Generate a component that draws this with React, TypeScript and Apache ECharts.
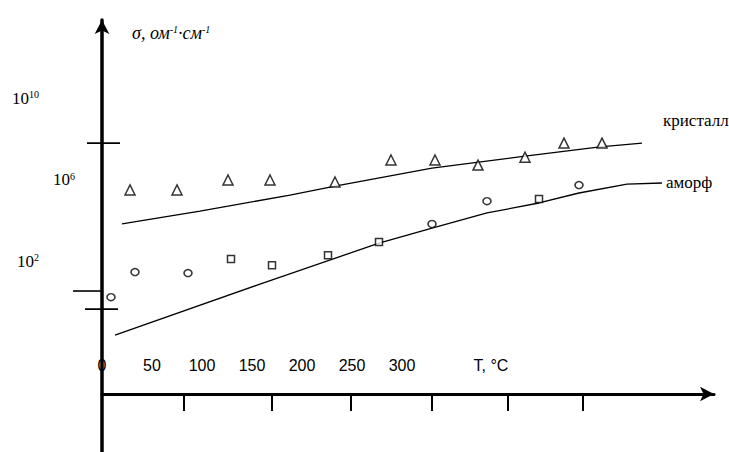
import React, { useEffect, useRef } from "react";
import * as echarts from "echarts";

// Temperature axis (°C) – label values and the (irregular) tick-mark positions
const xTickLabels = [0, 50, 100, 150, 200, 250, 300];
const xTickMarks = [82, 170, 249, 330, 406, 481];
// Conductivity axis in log10(σ) units
const yTickLabels = [2, 6, 10];

// Measured points: crystal (triangles)
const crystalT = [28, 75, 126, 168, 233, 289, 333, 376, 423, 462, 500];
const crystalLogS = [5.49, 5.49, 5.98, 5.98, 5.88, 6.96, 6.96, 6.71, 7.1, 7.79, 7.79];

// Measured points: amorphous (circles)
const amorphCircleT = [9, 33, 86, 330, 385, 477];
const amorphCircleLogS = [0.23, 1.46, 1.41, 3.82, 4.94, 5.73];

// Measured points: amorphous (squares)
const amorphSquareT = [129, 170, 226, 277, 437];
const amorphSquareLogS = [2.1, 1.8, 2.29, 2.93, 5.04];

// Fitted curves
const crystalFitT = [20, 98, 188, 233, 330, 423, 498, 540];
const crystalFitLogS = [3.82, 4.45, 5.24, 5.68, 6.56, 7.15, 7.6, 7.79];

const amorphFitT = [13, 158, 277, 330, 385, 437, 477, 525, 560];
const amorphFitLogS = [-1.63, 0.87, 2.88, 3.62, 4.36, 4.85, 5.34, 5.78, 5.83];

// Hand-drawn cross marks on the σ axis
const crossLevels = [7.79, 0.53, -0.36];
const crossFrom = [-15, -29, -17];
const crossTo = [18, 1, 16];

const zip = (xs: number[], ys: number[]) => xs.map((x, i) => [x, ys[i]]);

export default function App() {
  const ref = useRef<HTMLDivElement | null>(null);

  useEffect(() => {
    if (!ref.current) return;
    const chart = echarts.init(ref.current, undefined, { renderer: "svg" });

    const black = "#000";
    const scatterStyle = { color: "#fff", borderColor: black, borderWidth: 1.5 };

    const option: any = {
      animation: false,
      backgroundColor: "#fff",
      grid: { left: 102, right: 15, top: 20, bottom: 0, containLabel: false },
      xAxis: {
        type: "value",
        min: 0,
        max: 612,
        offset: -58,
        axisLine: {
          show: true,
          onZero: false,
          symbol: ["none", "arrow"],
          symbolSize: [11, 14],
          lineStyle: { color: black, width: 3 },
        },
        axisTick: {
          show: true,
          customValues: xTickMarks,
          length: 17,
          lineStyle: { color: black, width: 2 },
        },
        axisLabel: {
          show: true,
          customValues: xTickLabels,
          inside: true,
          margin: 21,
          color: black,
          fontFamily: "Liberation Sans",
          fontSize: 16,
        },
        splitLine: { show: false },
      },
      yAxis: {
        type: "value",
        min: -7.37,
        max: 13.83,
        axisLine: {
          show: true,
          onZero: false,
          symbol: ["none", "arrow"],
          symbolSize: [11, 14],
          lineStyle: { color: black, width: 3.5 },
        },
        axisTick: { show: false },
        axisLabel: {
          show: true,
          customValues: yTickLabels,
          margin: 27,
          formatter: (v: number) => (v === 6 ? `{b|10}{s|${v}}` : `{b|10}{sp|${v}}`),
          rich: {
            b: { fontFamily: "Liberation Serif", fontSize: 17, color: black },
            s: { fontFamily: "Liberation Serif", fontSize: 10, color: black, verticalAlign: "top" },
            sp: {
              fontFamily: "Liberation Serif",
              fontSize: 10,
              color: black,
              verticalAlign: "top",
              padding: [0, 36, 0, 0],
            },
          },
        },
        splitLine: { show: false },
      },
      graphic: [
        {
          type: "text",
          left: 132,
          top: 24,
          style: {
            text: "{a|σ, ом}{s|-1}{a|·см}{s|-1}",
            rich: {
              a: { fontFamily: "Liberation Serif", fontStyle: "italic", fontSize: 18, fill: black },
              s: {
                fontFamily: "Liberation Serif",
                fontStyle: "italic",
                fontSize: 10,
                fill: black,
                verticalAlign: "top",
              },
            },
          },
        },
        {
          type: "text",
          x: 491,
          y: 365,
          style: {
            text: "T, °C",
            fontFamily: "Liberation Sans",
            fontSize: 16,
            fill: black,
            align: "center",
            verticalAlign: "middle",
          },
        },
      ],
      series: [
        {
          type: "custom",
          coordinateSystem: "cartesian2d",
          data: crossLevels.map((lvl, i) => [crossFrom[i], crossTo[i], lvl]),
          encode: { x: [0, 1], y: 2 },
          clip: false,
          silent: true,
          renderItem: (_params: any, api: any) => {
            const a = api.coord([api.value(0), api.value(2)]);
            const b = api.coord([api.value(1), api.value(2)]);
            return {
              type: "line",
              shape: { x1: a[0], y1: a[1], x2: b[0], y2: b[1] },
              style: { stroke: black, lineWidth: 1.6 },
            };
          },
          z: 5,
        },
        {
          type: "line",
          name: "кристалл",
          data: zip(crystalFitT, crystalFitLogS),
          symbol: "none",
          lineStyle: { color: black, width: 1.3 },
          endLabel: {
            show: true,
            formatter: "кристалл",
            offset: [13, -23],
            fontFamily: "Liberation Serif",
            fontSize: 17,
            color: black,
          },
          z: 3,
        },
        {
          type: "line",
          name: "аморф",
          data: zip(amorphFitT, amorphFitLogS),
          symbol: "none",
          lineStyle: { color: black, width: 1.3 },
          endLabel: {
            show: true,
            formatter: "аморф",
            offset: [-4, -1],
            fontFamily: "Liberation Serif",
            fontSize: 17,
            color: black,
          },
          z: 3,
        },
        {
          type: "scatter",
          data: zip(crystalT, crystalLogS),
          symbol: "triangle",
          symbolSize: [10, 10],
          itemStyle: scatterStyle,
          z: 4,
        },
        {
          type: "scatter",
          data: zip(amorphCircleT, amorphCircleLogS),
          symbol: "circle",
          symbolSize: [8, 7],
          itemStyle: scatterStyle,
          z: 4,
        },
        {
          type: "scatter",
          data: zip(amorphSquareT, amorphSquareLogS),
          symbol: "rect",
          symbolSize: [7, 7],
          itemStyle: scatterStyle,
          z: 4,
        },
      ],
    };

    chart.setOption(option);
    return () => chart.dispose();
  }, []);

  return (
    <div
      ref={ref}
      style={{ position: "absolute", left: 0, top: 0, width: 729, height: 452, background: "#fff" }}
    />
  );
}
